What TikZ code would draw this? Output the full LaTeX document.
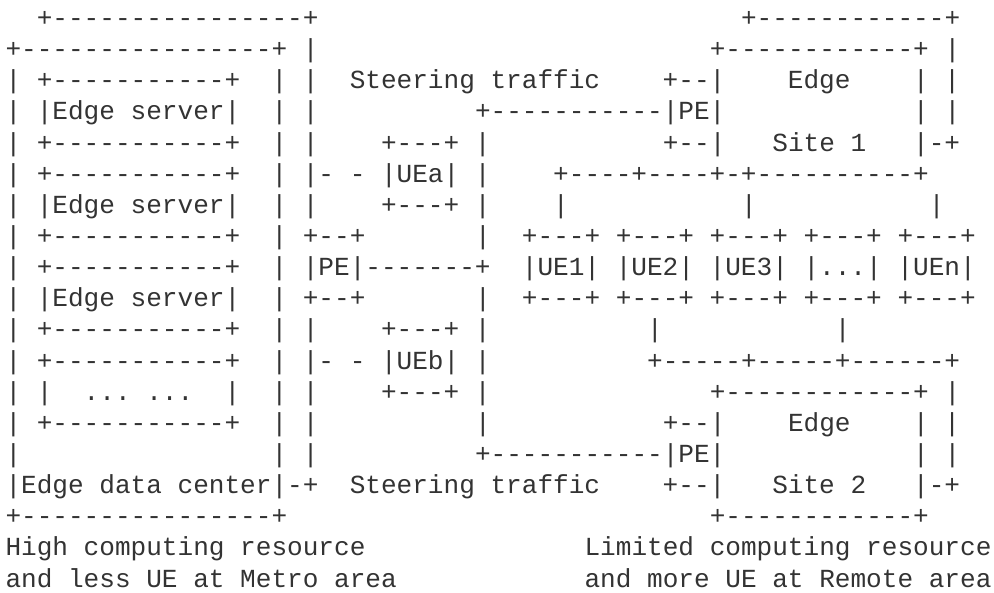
\documentclass[tikz,border=0pt]{standalone}
\usepackage{fontspec}
\setmonofont{Liberation Mono}
\definecolor{ink}{HTML}{333333}
\newlength\cw
\newcommand\gap[1]{\hspace*{#1\cw}}
\frenchspacing
\begin{document}
\settowidth\cw{\ttfamily\fontsize{13.04pt}{15.6pt}\selectfont 0}
\begin{tikzpicture}[x=0.5pt,y=-0.5pt,
  ascii/.style={anchor=base west,inner sep=0pt,outer sep=0pt,
    font=\ttfamily\fontsize{13.04pt}{15.6pt}\selectfont,text=ink}]
\useasboundingbox (0,0) rectangle (994,593);
\node[ascii] (l01) at (5.5,26.5)   {\gap{2}+----------------+\gap{27}+------------+};
\node[ascii] (l02) at (5.5,57.64)  {+----------------+~|\gap{25}+------------+~|};
\node[ascii] (l03) at (5.5,88.78)  {|~+-----------+~~|~|~~Steering~traffic\gap{4}+--|\gap{4}Edge\gap{4}|~|};
\node[ascii] (l04) at (5.5,119.92) {|~|Edge~server|~~|~|\gap{10}+-----------|PE|\gap{12}|~|};
\node[ascii] (l05) at (5.5,151.06) {|~+-----------+~~|~|\gap{4}+---+~|\gap{11}+--|\gap{3}Site~1\gap{3}|-+};
\node[ascii] (l06) at (5.5,182.2)  {|~+-----------+~~|~|-~-~|UEa|~|\gap{4}+----+----+-+----------+};
\node[ascii] (l07) at (5.5,213.34) {|~|Edge~server|~~|~|\gap{4}+---+~|\gap{4}|\gap{11}|\gap{11}|};
\node[ascii] (l08) at (5.5,244.48) {|~+-----------+~~|~+--+\gap{7}|~~+---+~+---+~+---+~+---+~+---+};
\node[ascii] (l09) at (5.5,275.62) {|~+-----------+~~|~|PE|-------+~~|UE1|~|UE2|~|UE3|~|...|~|UEn|};
\node[ascii] (l10) at (5.5,306.76) {|~|Edge~server|~~|~+--+\gap{7}|~~+---+~+---+~+---+~+---+~+---+};
\node[ascii] (l11) at (5.5,337.9)  {|~+-----------+~~|~|\gap{4}+---+~|\gap{10}|\gap{11}|};
\node[ascii] (l12) at (5.5,369.04) {|~+-----------+~~|~|-~-~|UEb|~|\gap{10}+-----+-----+------+};
\node[ascii] (l13) at (5.5,400.18) {|~|~~...~...~~|~~|~|\gap{4}+---+~|\gap{14}+------------+~|};
\node[ascii] (l14) at (5.5,431.32) {|~+-----------+~~|~|\gap{10}|\gap{11}+--|\gap{4}Edge\gap{4}|~|};
\node[ascii] (l15) at (5.5,462.46) {|\gap{16}|~|\gap{10}+-----------|PE|\gap{12}|~|};
\node[ascii] (l16) at (5.5,493.6)  {|Edge~data~center|-+~~Steering~traffic\gap{4}+--|\gap{3}Site~2\gap{3}|-+};
\node[ascii] (l17) at (5.5,524.74) {+----------------+\gap{27}+------------+};
\node[ascii] (l18) at (5.5,555.88) {High~computing~resource\gap{14}Limited~computing~resource};
\node[ascii] (l19) at (5.5,587.02) {and~less~UE~at~Metro~area\gap{12}and~more~UE~at~Remote~area};
\end{tikzpicture}
\end{document}
